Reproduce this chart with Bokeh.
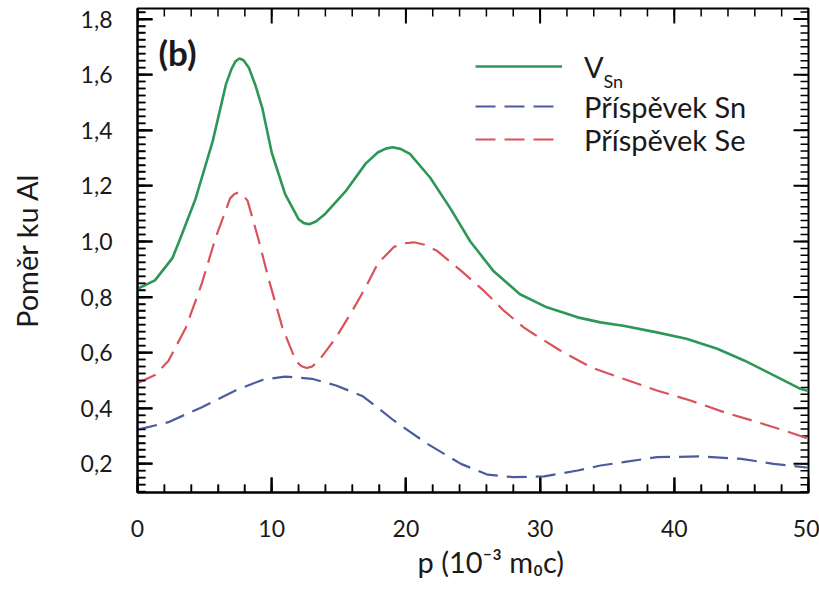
from bokeh.plotting import figure
from bokeh.models import (FixedTicker, Range1d, CustomJSTickFormatter,
                          Legend, LegendItem, Label, ColumnDataSource, Title)
from bokeh.embed import file_html
from bokeh.resources import INLINE

# ---- data ----
x_vsn = [0, 1.3, 2.6, 3.1, 4.3, 5.6, 6.6, 7.0, 7.3, 7.6, 7.9, 8.3, 8.8, 9.3, 10.0, 11.0,
         12.0, 12.4, 12.8, 13.3, 14.0, 15.5, 17.0, 17.9, 18.5, 19.0, 19.6, 20.3, 21.8,
         23.3, 24.8, 26.5, 28.5, 30.5, 32.8, 34.5, 36.2, 38.7, 40.9, 43.2, 45.2, 47.2,
         49.4, 50]
y_vsn = [0.83, 0.86, 0.94, 1.00, 1.15, 1.36, 1.567, 1.62, 1.648, 1.658, 1.652, 1.625,
         1.56, 1.48, 1.32, 1.17, 1.08, 1.066, 1.062, 1.072, 1.10, 1.18, 1.28, 1.32, 1.334,
         1.339, 1.333, 1.315, 1.23, 1.12, 1.00, 0.895, 0.81, 0.763, 0.727, 0.709, 0.697,
         0.673, 0.650, 0.614, 0.572, 0.524, 0.470, 0.462]

x_sn = [0, 2.3, 4.8, 7.3, 9.3, 11.0, 13.0, 14.8, 16.8, 19.1, 21.6, 24.1, 26.1, 28.0,
        30.3, 32.8, 34.5, 36.2, 38.7, 42.0, 45.0, 47.4, 50]
y_sn = [0.323, 0.35, 0.404, 0.464, 0.502, 0.514, 0.506, 0.482, 0.443, 0.356, 0.272, 0.20,
        0.161, 0.152, 0.155, 0.176, 0.194, 0.206, 0.224, 0.227, 0.218, 0.20, 0.186]

x_se = [0, 1.3, 2.3, 3.6, 4.8, 5.8, 6.9, 7.2, 7.5, 7.8, 8.2, 9.0, 9.8, 10.8, 11.8, 12.2,
        12.6, 13.0, 13.5, 14.8, 16.0, 17.0, 17.9, 19.1, 19.8, 20.6, 21.4, 22.3, 24.1,
        25.8, 27.3, 28.8, 29.5, 31.5, 33.8, 36.2, 38.7, 41.2, 43.7, 46.2, 48.2, 50]
y_se = [0.49, 0.52, 0.57, 0.69, 0.85, 1.01, 1.155, 1.17, 1.176, 1.17, 1.147, 1.01, 0.86,
        0.69, 0.57, 0.552, 0.545, 0.55, 0.57, 0.655, 0.75, 0.835, 0.92, 0.98, 0.993,
        0.997, 0.988, 0.967, 0.895, 0.823, 0.751, 0.69, 0.668, 0.608, 0.547, 0.506,
        0.464, 0.428, 0.386, 0.35, 0.32, 0.29]

x_major = [0, 10, 20, 30, 40, 50]
y_major = [0.2, 0.4, 0.6, 0.8, 1.0, 1.2, 1.4, 1.6, 1.8]

series_names = ["V", "Příspěvek Sn", "Příspěvek Se"]
x_label = "p (10⁻³ m₀c)"
y_label = "Poměr ku Al"
panel_tag = "(b)"

# ---- styling ----
FONT = "Lato"
GREEN = "#2e9657"
BLUE = "#4b5c9e"
RED = "#d9525c"
TXT = "#1a1a1a"

X0, X1 = 0.0, 50.0
Y0, Y1 = 0.097, 1.838
W, H = 819, 594
BL, BR, BT, BB = 137, 11, 8, 102
FW, FH = W - BL - BR, H - BT - BB

x_minor = [float(v) for v in range(0, 51, 2)]
y_minor = [round(0.1 + 0.025 * i, 3) for i in range(70)]

p = figure(width=W, height=H, output_backend="svg", toolbar_location=None,
           x_range=Range1d(X0, X1), y_range=Range1d(Y0, Y1),
           min_border_left=BL, min_border_right=BR, min_border_top=BT, min_border_bottom=BB)
p.xgrid.visible = False
p.ygrid.visible = False
p.outline_line_color = "black"
p.outline_line_width = 2
p.background_fill_color = "white"
p.border_fill_color = "white"


def style_axis(ax):
    ax.axis_line_color = "black"
    ax.axis_line_width = 2
    ax.major_tick_in = 15
    ax.major_tick_out = 0
    ax.minor_tick_in = 8
    ax.minor_tick_out = 0
    ax.major_tick_line_width = 2
    ax.minor_tick_line_width = 1.5
    ax.major_tick_line_color = "black"
    ax.minor_tick_line_color = "black"
    ax.major_label_text_font = FONT
    ax.major_label_text_font_size = "23px"
    ax.major_label_text_color = TXT
    ax.axis_label_text_font = FONT
    ax.axis_label_text_font_size = "29px"
    ax.axis_label_text_font_style = "normal"
    ax.axis_label_text_color = TXT


xa = p.xaxis[0]
xa.ticker = FixedTicker(ticks=x_major, minor_ticks=x_minor)
style_axis(xa)
xa.major_label_standoff = 27

ya = p.yaxis[0]
ya.ticker = FixedTicker(ticks=y_major, minor_ticks=y_minor)
ya.formatter = CustomJSTickFormatter(code="return tick.toFixed(1).replace('.', ',')")
style_axis(ya)
ya.major_label_standoff = 25
ya.axis_label = y_label
ya.axis_label_standoff = 34

# inward ticks on all four sides of the frame: short rects sized in screen pixels
MAJ, MIN = 15, 8
for ticks, L, w in ((x_major, MAJ, 2), (x_minor, MIN, 1.5)):
    t = [float(v) for v in ticks]
    n = len(t)
    src = ColumnDataSource(dict(x=t + t, y=[Y0] * n + [Y1] * n))
    p.rect(x="x", y="y", width=w, height=2 * L, width_units="screen",
           height_units="screen", source=src, fill_color="black", line_color=None)
for ticks, L, w in ((y_major, MAJ, 2), (y_minor, MIN, 1.5)):
    t = [float(v) for v in ticks]
    n = len(t)
    src = ColumnDataSource(dict(x=[X0] * n + [X1] * n, y=t + t))
    p.rect(x="x", y="y", width=2 * L, height=w, width_units="screen",
           height_units="screen", source=src, fill_color="black", line_color=None)

r_v = p.line(x_vsn, y_vsn, line_color=GREEN, line_width=2.6)
r_sn = p.line(x_sn, y_sn, line_color=BLUE, line_width=2.2, line_dash="20 9")
r_se = p.line(x_se, y_se, line_color=RED, line_width=2.2, line_dash="20 9")

# legend: one row per Legend so rows can be placed like in the reference
for name, rend, vy in zip(series_names, [r_v, r_sn, r_se], [406, 366, 333]):
    lg = Legend(items=[LegendItem(label=name, renderers=[rend])], location=(338, vy),
                padding=0, margin=0, spacing=0, glyph_width=87, glyph_height=40,
                label_height=40, label_standoff=22, border_line_alpha=0,
                background_fill_alpha=0, label_text_font=FONT,
                label_text_font_size="29px", label_text_color=TXT)
    p.add_layout(lg)

p.add_layout(Label(x=466, y=412, x_units="screen", y_units="screen", text="Sn",
                   text_font=FONT, text_font_size="18px", text_color=TXT,
                   text_baseline="middle"))
p.add_layout(Label(x=21, y=441, x_units="screen", y_units="screen", text=panel_tag,
                   text_font=FONT, text_font_size="35px", text_font_style="bold",
                   text_color=TXT, text_baseline="middle"))
# x-axis title, placed like in the reference (slightly right of centre)
p.add_layout(Title(text=x_label, align="left", offset=280, standoff=4,
                   text_font=FONT, text_font_size="29px", text_font_style="normal",
                   text_color=TXT), "below")

open("out.html", "w").write(file_html(p, INLINE))
